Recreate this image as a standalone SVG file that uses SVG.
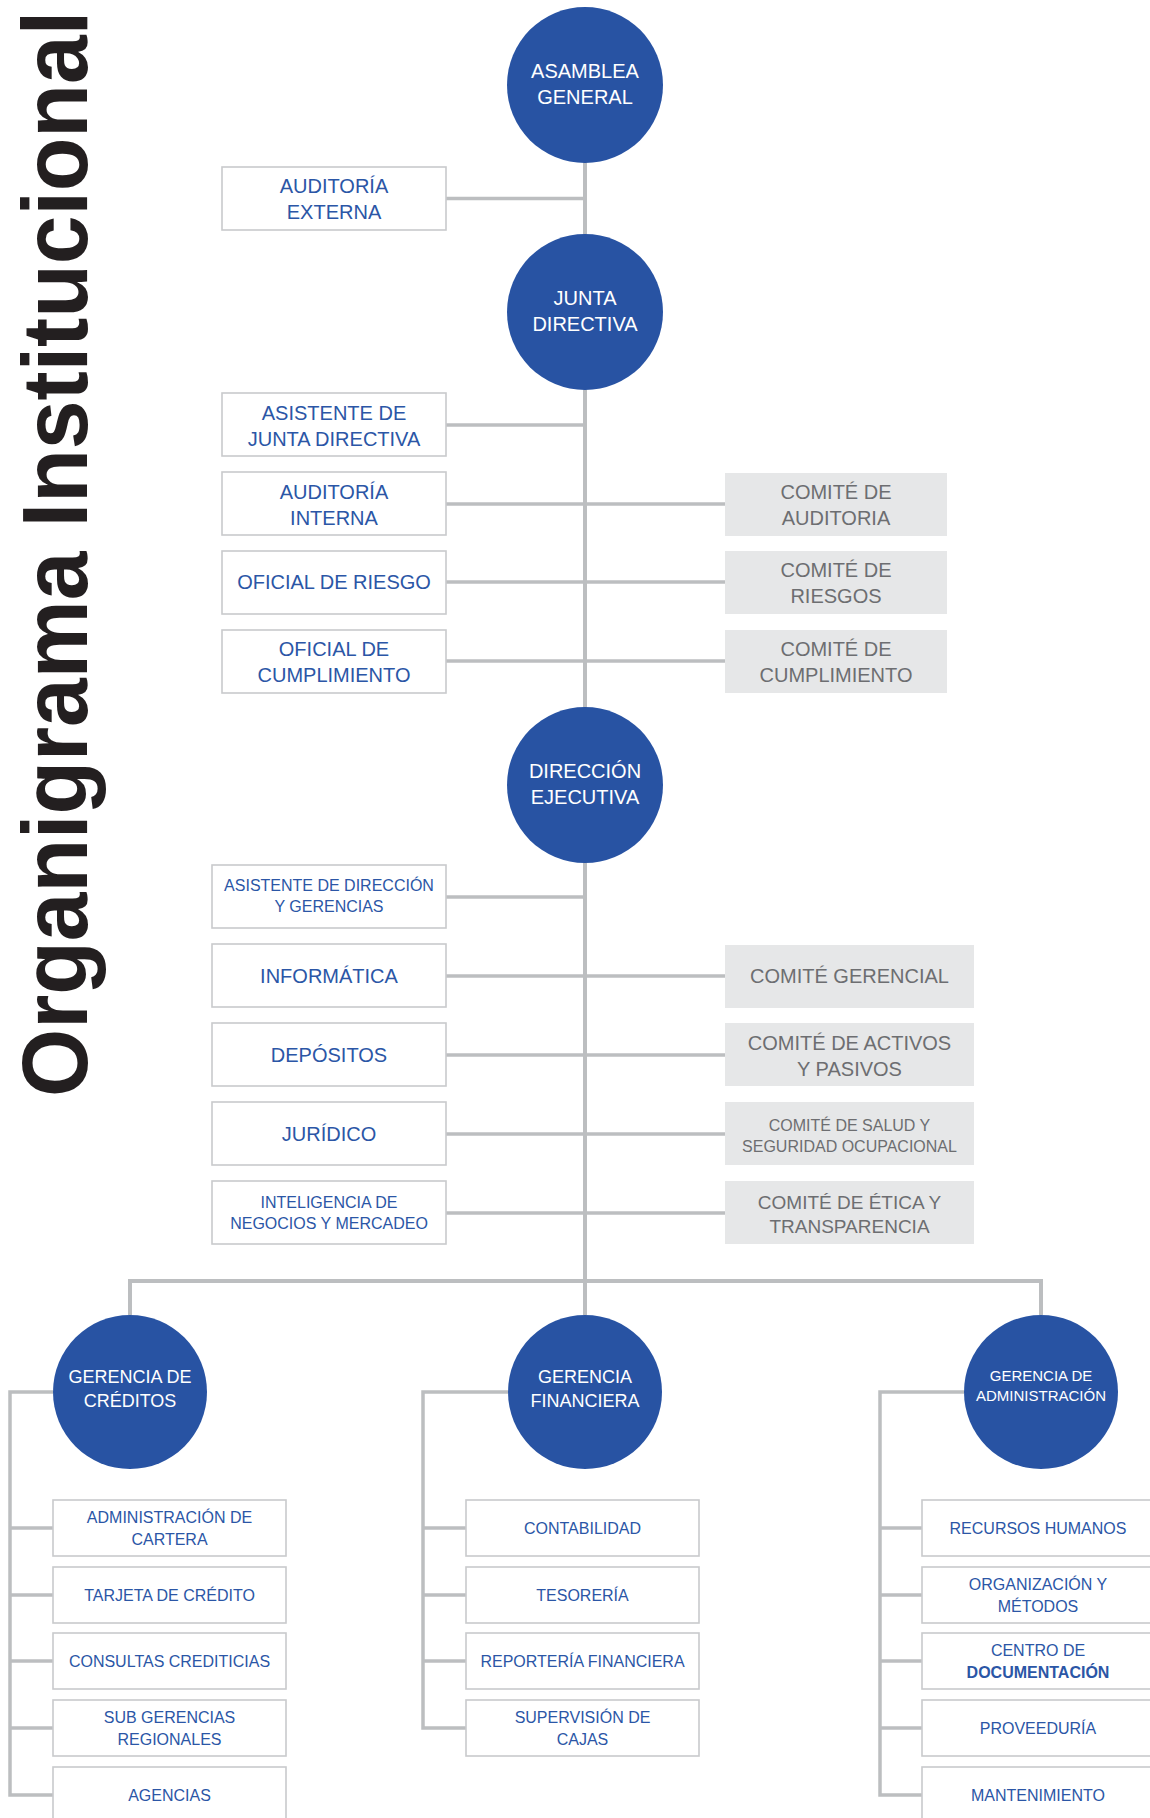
<svg xmlns="http://www.w3.org/2000/svg" width="1150" height="1818" viewBox="0 0 1150 1818">
<style>
text{font-family:"Liberation Sans",Arial,sans-serif;text-anchor:middle}
.title{font-size:92px;font-weight:bold;fill:#231f20;text-anchor:start}
.circ{fill:#2853a3}
.ct{fill:#ffffff;font-size:20px}
.ct18{fill:#ffffff;font-size:18px}
.ct15{fill:#ffffff;font-size:15px}
.box{fill:#ffffff;stroke:#c9cacc;stroke-width:1.6}
.gbox{fill:#e6e7e8}
.bt{fill:#2b56a6;font-size:20px}
.bt16{fill:#2b56a6;font-size:16px}
.gt{fill:#6d6e71;font-size:20px}
.gt16{fill:#6d6e71;font-size:16px}
.gt19{fill:#6d6e71;font-size:19px}
.ln{stroke:#bcbec0;stroke-width:4;fill:none}
.ln3{stroke:#bcbec0;stroke-width:3.5;fill:none}
</style>

<text class="title" transform="translate(87,1097) rotate(-90)" textLength="1086" lengthAdjust="spacingAndGlyphs">Organigrama Institucional</text>

<g id="connectors">
  <line class="ln" x1="585" y1="85" x2="585" y2="1315"/>
  <line class="ln3" x1="446" y1="198.5" x2="585" y2="198.5"/>
  <line class="ln3" x1="446" y1="425" x2="585" y2="425"/>
  <line class="ln3" x1="446" y1="504" x2="725" y2="504"/>
  <line class="ln3" x1="446" y1="582" x2="725" y2="582"/>
  <line class="ln3" x1="446" y1="661" x2="725" y2="661"/>
  <line class="ln3" x1="446" y1="897" x2="585" y2="897"/>
  <line class="ln3" x1="446" y1="976" x2="725" y2="976"/>
  <line class="ln3" x1="446" y1="1055" x2="725" y2="1055"/>
  <line class="ln3" x1="446" y1="1134" x2="725" y2="1134"/>
  <line class="ln3" x1="446" y1="1213" x2="725" y2="1213"/>
  <polyline class="ln" points="130,1315 130,1281 1041,1281 1041,1315"/>
  <polyline class="ln3" points="53,1392 10,1392 10,1795 53,1795"/>
  <line class="ln3" x1="10" y1="1528" x2="53" y2="1528"/>
  <line class="ln3" x1="10" y1="1595" x2="53" y2="1595"/>
  <line class="ln3" x1="10" y1="1661" x2="53" y2="1661"/>
  <line class="ln3" x1="10" y1="1728" x2="53" y2="1728"/>
  <polyline class="ln3" points="508,1392 423,1392 423,1728 466,1728"/>
  <line class="ln3" x1="423" y1="1528" x2="466" y2="1528"/>
  <line class="ln3" x1="423" y1="1595" x2="466" y2="1595"/>
  <line class="ln3" x1="423" y1="1661" x2="466" y2="1661"/>
  <polyline class="ln3" points="964,1392 880,1392 880,1795 922,1795"/>
  <line class="ln3" x1="880" y1="1528" x2="922" y2="1528"/>
  <line class="ln3" x1="880" y1="1595" x2="922" y2="1595"/>
  <line class="ln3" x1="880" y1="1661" x2="922" y2="1661"/>
  <line class="ln3" x1="880" y1="1728" x2="922" y2="1728"/>
</g>

<g id="asamblea-general"><circle class="circ" cx="585" cy="85" r="78"/><text class="ct" x="585" y="78">ASAMBLEA</text><text class="ct" x="585" y="104">GENERAL</text></g>
<g id="auditoria-externa"><rect class="box" x="222" y="167" width="224" height="63"/><text class="bt" x="334" y="193">AUDITORÍA</text><text class="bt" x="334" y="219">EXTERNA</text></g>
<g id="junta-directiva"><circle class="circ" cx="585" cy="312" r="78"/><text class="ct" x="585" y="305">JUNTA</text><text class="ct" x="585" y="331">DIRECTIVA</text></g>

<g id="asistente-junta"><rect class="box" x="222" y="393" width="224" height="63"/><text class="bt" x="334" y="420">ASISTENTE DE</text><text class="bt" x="334" y="446">JUNTA DIRECTIVA</text></g>
<g id="auditoria-interna"><rect class="box" x="222" y="472" width="224" height="63"/><text class="bt" x="334" y="499">AUDITORÍA</text><text class="bt" x="334" y="525">INTERNA</text></g>
<g id="oficial-riesgo"><rect class="box" x="222" y="551" width="224" height="63"/><text class="bt" x="334" y="589">OFICIAL DE RIESGO</text></g>
<g id="oficial-cumplimiento"><rect class="box" x="222" y="630" width="224" height="63"/><text class="bt" x="334" y="656">OFICIAL DE</text><text class="bt" x="334" y="682">CUMPLIMIENTO</text></g>

<g id="comite-auditoria"><rect class="gbox" x="725" y="473" width="222" height="63"/><text class="gt" x="836" y="499">COMITÉ DE</text><text class="gt" x="836" y="525">AUDITORIA</text></g>
<g id="comite-riesgos"><rect class="gbox" x="725" y="551" width="222" height="63"/><text class="gt" x="836" y="577">COMITÉ DE</text><text class="gt" x="836" y="603">RIESGOS</text></g>
<g id="comite-cumplimiento"><rect class="gbox" x="725" y="630" width="222" height="63"/><text class="gt" x="836" y="656">COMITÉ DE</text><text class="gt" x="836" y="682">CUMPLIMIENTO</text></g>

<g id="direccion-ejecutiva"><circle class="circ" cx="585" cy="785" r="78"/><text class="ct" x="585" y="778">DIRECCIÓN</text><text class="ct" x="585" y="804">EJECUTIVA</text></g>

<g id="asistente-direccion"><rect class="box" x="212" y="865" width="234" height="63"/><text class="bt16" x="329" y="891">ASISTENTE DE DIRECCIÓN</text><text class="bt16" x="329" y="912">Y GERENCIAS</text></g>
<g id="informatica"><rect class="box" x="212" y="944" width="234" height="63"/><text class="bt" x="329" y="983">INFORMÁTICA</text></g>
<g id="depositos"><rect class="box" x="212" y="1023" width="234" height="63"/><text class="bt" x="329" y="1062">DEPÓSITOS</text></g>
<g id="juridico"><rect class="box" x="212" y="1102" width="234" height="63"/><text class="bt" x="329" y="1141">JURÍDICO</text></g>
<g id="inteligencia-negocios"><rect class="box" x="212" y="1181" width="234" height="63"/><text class="bt16" x="329" y="1208">INTELIGENCIA DE</text><text class="bt16" x="329" y="1229">NEGOCIOS Y MERCADEO</text></g>

<g id="comite-gerencial"><rect class="gbox" x="725" y="945" width="249" height="63"/><text class="gt" x="849.5" y="983">COMITÉ GERENCIAL</text></g>
<g id="comite-activos-pasivos"><rect class="gbox" x="725" y="1023" width="249" height="63"/><text class="gt" x="849.5" y="1050">COMITÉ DE ACTIVOS</text><text class="gt" x="849.5" y="1076">Y PASIVOS</text></g>
<g id="comite-salud"><rect class="gbox" x="725" y="1102" width="249" height="63"/><text class="gt16" x="849.5" y="1131">COMITÉ DE SALUD Y</text><text class="gt16" x="849.5" y="1152">SEGURIDAD OCUPACIONAL</text></g>
<g id="comite-etica"><rect class="gbox" x="725" y="1181" width="249" height="63"/><text class="gt19" x="849.5" y="1209">COMITÉ DE ÉTICA Y</text><text class="gt19" x="849.5" y="1233">TRANSPARENCIA</text></g>

<g id="gerencia-creditos"><circle class="circ" cx="130" cy="1392" r="77"/><text class="ct18" x="130" y="1383">GERENCIA DE</text><text class="ct18" x="130" y="1407">CRÉDITOS</text></g>
<g id="gerencia-financiera"><circle class="circ" cx="585" cy="1392" r="77"/><text class="ct18" x="585" y="1383">GERENCIA</text><text class="ct18" x="585" y="1407">FINANCIERA</text></g>
<g id="gerencia-administracion"><circle class="circ" cx="1041" cy="1392" r="77"/><text class="ct15" x="1041" y="1381">GERENCIA DE</text><text class="ct15" x="1041" y="1401">ADMINISTRACIÓN</text></g>

<g id="administracion-cartera"><rect class="box" x="53" y="1500" width="233" height="56"/><text class="bt16" x="169.5" y="1523">ADMINISTRACIÓN DE</text><text class="bt16" x="169.5" y="1545">CARTERA</text></g>
<g id="tarjeta-credito"><rect class="box" x="53" y="1567" width="233" height="56"/><text class="bt16" x="169.5" y="1601">TARJETA DE CRÉDITO</text></g>
<g id="consultas-crediticias"><rect class="box" x="53" y="1633" width="233" height="56"/><text class="bt16" x="169.5" y="1667">CONSULTAS CREDITICIAS</text></g>
<g id="sub-gerencias"><rect class="box" x="53" y="1700" width="233" height="56"/><text class="bt16" x="169.5" y="1723">SUB GERENCIAS</text><text class="bt16" x="169.5" y="1745">REGIONALES</text></g>
<g id="agencias"><rect class="box" x="53" y="1767" width="233" height="70"/><text class="bt16" x="169.5" y="1801">AGENCIAS</text></g>

<g id="contabilidad"><rect class="box" x="466" y="1500" width="233" height="56"/><text class="bt16" x="582.5" y="1534">CONTABILIDAD</text></g>
<g id="tesoreria"><rect class="box" x="466" y="1567" width="233" height="56"/><text class="bt16" x="582.5" y="1601">TESORERÍA</text></g>
<g id="reporteria-financiera"><rect class="box" x="466" y="1633" width="233" height="56"/><text class="bt16" x="582.5" y="1667">REPORTERÍA FINANCIERA</text></g>
<g id="supervision-cajas"><rect class="box" x="466" y="1700" width="233" height="56"/><text class="bt16" x="582.5" y="1723">SUPERVISIÓN DE</text><text class="bt16" x="582.5" y="1745">CAJAS</text></g>

<g id="recursos-humanos"><rect class="box" x="922" y="1500" width="240" height="56"/><text class="bt16" x="1038" y="1534">RECURSOS HUMANOS</text></g>
<g id="organizacion-metodos"><rect class="box" x="922" y="1567" width="240" height="56"/><text class="bt16" x="1038" y="1590">ORGANIZACIÓN Y</text><text class="bt16" x="1038" y="1612">MÉTODOS</text></g>
<g id="centro-documentacion"><rect class="box" x="922" y="1633" width="240" height="56"/><text class="bt16" x="1038" y="1656">CENTRO DE</text><text class="bt16" x="1038" y="1678" font-weight="bold">DOCUMENTACIÓN</text></g>
<g id="proveeduria"><rect class="box" x="922" y="1700" width="240" height="56"/><text class="bt16" x="1038" y="1734">PROVEEDURÍA</text></g>
<g id="mantenimiento"><rect class="box" x="922" y="1767" width="240" height="70"/><text class="bt16" x="1038" y="1801">MANTENIMIENTO</text></g>
</svg>
